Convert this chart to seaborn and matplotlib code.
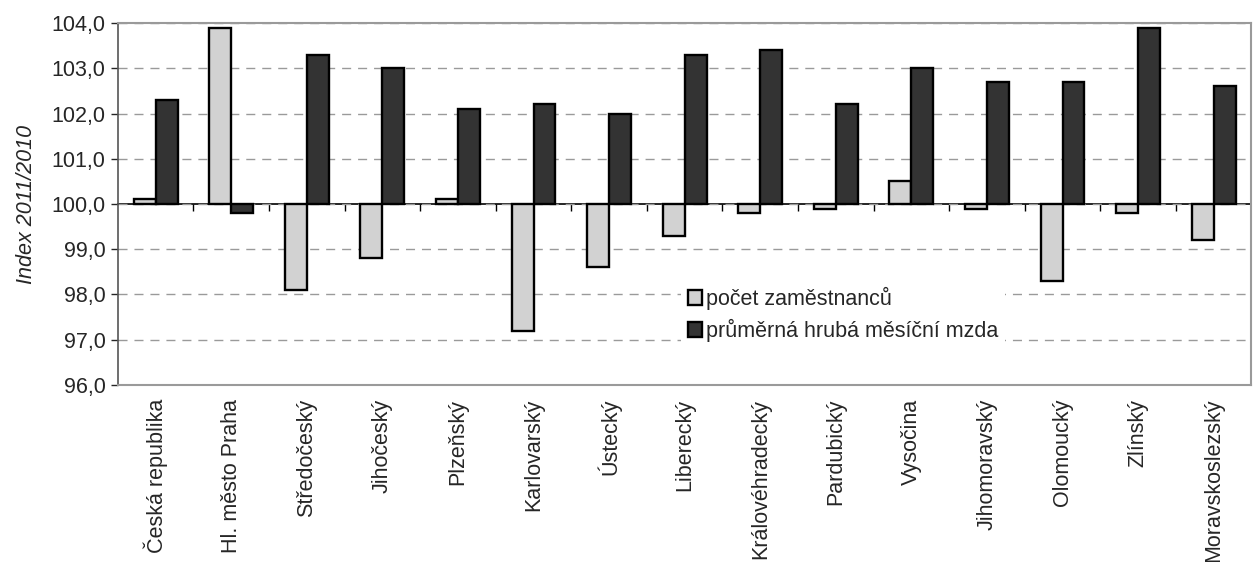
import matplotlib
matplotlib.use("Agg")
import matplotlib.pyplot as plt
import seaborn as sns
import pandas as pd
import numpy as np
from matplotlib.ticker import FuncFormatter, FixedLocator

categories = ["Česká republika", "Hl. město Praha", "Středočeský", "Jihočeský",
              "Plzeňský", "Karlovarský", "Ústecký", "Liberecký", "Královéhradecký",
              "Pardubický", "Vysočina", "Jihomoravský", "Olomoucký", "Zlínský",
              "Moravskoslezský"]
pocet = [100.1, 103.9, 98.1, 98.8, 100.1, 97.2, 98.6, 99.3, 99.8, 99.9,
         100.5, 99.9, 98.3, 99.8, 99.2]
mzda = [102.3, 99.8, 103.3, 103.0, 102.1, 102.2, 102.0, 103.3, 103.4, 102.2,
        103.0, 102.7, 102.7, 103.9, 102.6]
series_names = ["počet zaměstnanců", "průměrná hrubá měsíční mzda"]
base = 100.0

df = pd.DataFrame({
    "kraj": categories * 2,
    "serie": [series_names[0]] * len(categories) + [series_names[1]] * len(categories),
    "index": pocet + mzda,
})
df["delta"] = df["index"] - base

sns.set_style("white")
plt.rcParams["font.family"] = ["Liberation Sans", "DejaVu Sans"]
FS = 15.5
plt.rcParams["font.size"] = FS

fig = plt.figure(figsize=(12.54, 5.62), dpi=100)
ax = fig.add_axes([0.094, 0.315, 0.904, 0.644])

sns.barplot(data=df, x="kraj", y="delta", hue="serie", order=categories,
            hue_order=series_names, palette=["#d2d2d2", "#333333"],
            width=0.58, bottom=base, edgecolor="black", linewidth=1.7,
            saturation=1, ax=ax, legend=False, errorbar=None)

ax.set_ylim(96, 104)
ax.set_xlim(-0.5, len(categories) - 0.5)
ax.yaxis.set_major_locator(FixedLocator(np.arange(96, 104.5, 1)))
ax.yaxis.set_major_formatter(FuncFormatter(lambda v, p: f"{v:.1f}".replace(".", ",")))

ax.yaxis.grid(True, linestyle=(0, (6.5, 5)), color="#9a9a9a", linewidth=1.0)
ax.set_axisbelow(True)

# axis line at 100 with category separators
sec = ax.secondary_xaxis(0.5)
sec.set_xticks(np.arange(0.5, len(categories) - 0.5, 1))
sec.set_xticklabels([])
sec.xaxis.set_ticks_position("bottom")
sec.tick_params(axis="x", which="both", direction="out", length=5, width=1,
                color="black", top=False, bottom=True)
for s in sec.spines.values():
    s.set_color("black")
    s.set_linewidth(1.2)

ax.set_xlabel("")
ax.set_ylabel("Index 2011/2010", fontstyle="italic", fontsize=FS, labelpad=10)
ax.tick_params(axis="x", length=0, labelrotation=90, labelsize=FS, pad=10)
ax.tick_params(axis="y", left=True, length=5, width=1, labelsize=FS, pad=4)

for side in ["top", "right", "bottom"]:
    ax.spines[side].set_color("#9a9a9a")
    ax.spines[side].set_linewidth(1.5)
ax.spines["left"].set_color("#555555")
ax.spines["left"].set_linewidth(1.2)

leg = ax.legend(handles=list(ax.containers), labels=series_names,
                loc="upper left", bbox_to_anchor=(0.497, 0.29), frameon=True,
                framealpha=1, edgecolor="white", fontsize=FS, handlelength=0.65,
                handleheight=0.7, handletextpad=0.2, labelspacing=0.45,
                borderpad=0.3, borderaxespad=0)
leg.get_frame().set_linewidth(0)

fig.savefig("out.png", dpi=100)
